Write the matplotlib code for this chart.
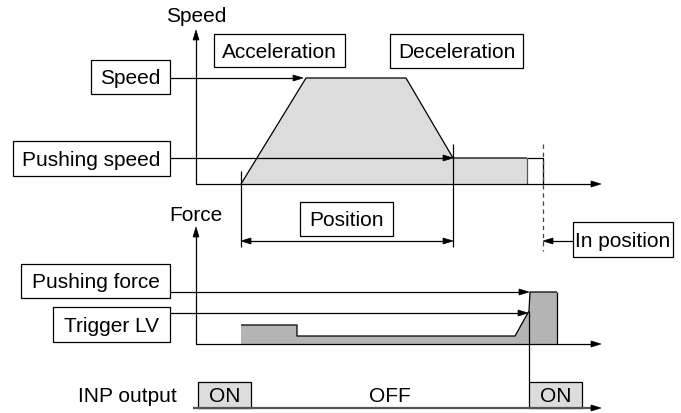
import numpy as np
import matplotlib.pyplot as plt
from matplotlib.patches import Rectangle, Polygon

plt.rcParams['font.family'] = ['Liberation Sans', 'DejaVu Sans']

# diagram geometry in pixel units (x right, y down)
speed_x = [241, 306, 406, 453, 527, 527]
speed_y = [185, 79, 79, 159, 159, 185]
force_x = [241, 241, 297, 297, 515, 529, 530, 557, 557]
force_y = [345, 326, 326, 337, 337, 312, 293, 293, 345]

# label boxes: text, x0, y0, x1, y1
boxes = [
    ('Acceleration', 214, 35, 345, 68),
    ('Deceleration', 390, 35, 523, 69),
    ('Speed', 91, 61, 170, 95),
    ('Pushing speed', 13, 142, 170, 177),
    ('Position', 300, 203, 393, 237),
    ('In position', 573, 223, 673, 258),
    ('Pushing force', 21, 265, 170, 299),
    ('Trigger LV', 53, 308, 170, 343),
]
inp_labels = ['ON', 'OFF', 'ON']
inp_x = [[198, 251], [251, 529], [529, 582]]
inp_on = [True, False, True]

fig = plt.figure(figsize=(6.81, 4.14), dpi=100)
ax = fig.add_axes([0, 0, 1, 1])
ax.set_xlim(0, 681)
ax.set_ylim(414, 0)
ax.axis('off')

FS = 15
LW = 0.9


def line(xs, ys, **kw):
    kw.setdefault('color', 'k')
    kw.setdefault('lw', LW)
    ax.plot(xs, ys, solid_capstyle='butt', **kw)


def head(x, y, direction, L=10, W=3, color='k'):
    dx, dy = {'r': (1, 0), 'l': (-1, 0), 'u': (0, -1)}[direction]
    px, py = -dy, dx
    pts = [(x, y), (x - dx * L + px * W, y - dy * L + py * W),
           (x - dx * L - px * W, y - dy * L - py * W)]
    ax.add_patch(Polygon(pts, closed=True, fc=color, ec=color, lw=0.5, zorder=5))


# speed graph
ax.fill(speed_x, speed_y, color='#dcdcdc', lw=0)
line(speed_x[:5], speed_y[:5])
line([527, 527], [159, 185], color='#555555')
line([527, 543, 543], [159, 159, 185])
line([196, 196, 592], [36, 185, 185])
head(196, 31, 'u')
head(601, 185, 'r')
ax.text(196, 16, 'Speed', ha='center', va='center', fontsize=FS)
line([170, 298], [79, 79])
head(303, 79, 'r')
line([170, 446], [159, 159])
head(453, 159, 'r')

# verticals and position markers
line([241, 241], [172, 248])
line([453, 453], [145, 248])
line([543, 543], [145, 252], ls=(0, (3.5, 3)), color='#444444')
line([248, 446], [242, 242])
head(241, 242, 'l')
head(453, 242, 'r')
line([550, 573], [242, 242])
head(543, 242, 'l')

# force graph
ax.fill(force_x, force_y, color='#b4b4b4', lw=0)
line(force_x[1:8], force_y[1:8])
line([557, 557], [293, 345])
line([196, 196, 592], [233, 345, 345])
head(196, 228, 'u')
head(601, 345, 'r')
ax.text(196, 216, 'Force', ha='center', va='center', fontsize=FS)
line([170, 521], [293, 293])
head(529, 293, 'r')
line([170, 520], [314, 314])
head(528, 314, 'r')
line([529, 529], [312, 383])

# INP output
ax.text(177, 397, 'INP output', ha='right', va='center', fontsize=FS)
for lab, (x0, x1), on in zip(inp_labels, inp_x, inp_on):
    if on:
        ax.add_patch(Rectangle((x0, 383), x1 - x0, 26, fc='#dcdcdc', ec='k', lw=LW))
    ax.text((x0 + x1) / 2, 397, lab, ha='center', va='center', fontsize=FS)
line([193, 592], [409, 409], color='#555555', lw=1.6)
head(601, 409, 'r')

for txt, x0, y0, x1, y1 in boxes:
    ax.add_patch(Rectangle((x0, y0), x1 - x0, y1 - y0, fc='white', ec='k', lw=LW, zorder=3))
    ax.text((x0 + x1) / 2, (y0 + y1) / 2 + 1, txt, ha='center', va='center', fontsize=FS, zorder=4)

fig.savefig('out.png', dpi=100)
